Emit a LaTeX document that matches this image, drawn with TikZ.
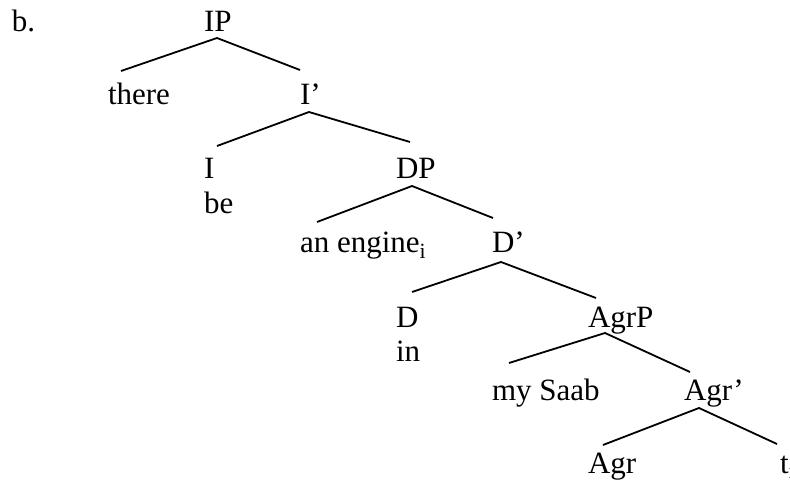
\documentclass[tikz,border=0pt]{standalone}
\usepackage{fontspec}
\setmainfont{Liberation Serif}
\begin{document}
\begin{tikzpicture}[x=1pt,y=-1pt,
  lbl/.style={anchor=base west,inner sep=0pt,outer sep=0pt,
    font=\fontsize{31}{34.5}\selectfont},
  branch/.style={line width=1.8pt,line cap=butt}]
\useasboundingbox (0,0) rectangle (790,481);
% labels, set on tab stops 96pt apart
\node[lbl] (ex)    at (12,32)   {b.};
\node[lbl] (IP)    at (204,32)  {IP};
\node[lbl] (there) at (108,105) {there};
\node[lbl] (Ibar)  at (300,105) {I’};
\node[lbl] (I)     at (204,179) {I};
\node[lbl] (be)    at (204,214) {be};
\node[lbl] (DP)    at (396,179) {DP};
\node[lbl] (eng)   at (300,253) {an engine\textsubscript{i}};
\node[lbl] (Dbar)  at (492,253) {D’};
\node[lbl] (D)     at (396,327) {D};
\node[lbl] (in)    at (396,361) {in};
\node[lbl] (AgrP)  at (588,327) {AgrP};
\node[lbl] (saab)  at (492,400) {my Saab};
\node[lbl] (Agrb)  at (684,400) {Agr’};
\node[lbl] (Agr)   at (588,473) {Agr};
\node[lbl] (trace) at (780,473) {t\textsubscript{i}};
% branch points: top of each fork and its two feet
\coordinate (IPa)   at (217,38);  \coordinate (IPl)   at (121,71);  \coordinate (IPr)   at (300,70);
\coordinate (Ibara) at (309,112); \coordinate (Ibarl) at (217,146); \coordinate (Ibarr) at (410,142);
\coordinate (DPa)   at (412,186); \coordinate (DPl)   at (317,222); \coordinate (DPr)   at (493,218);
\coordinate (Dbara) at (501,262); \coordinate (Dbarl) at (412,292); \coordinate (Dbarr) at (596,298);
\coordinate (AgrPa) at (605,333); \coordinate (AgrPl) at (509,363); \coordinate (AgrPr) at (690,372);
\coordinate (Agrba) at (699,408); \coordinate (Agrbl) at (603,445); \coordinate (Agrbr) at (777,444);
% branches
\draw[branch] (IPl) -- (IPa) -- (IPr);
\draw[branch] (Ibarl) -- (Ibara) -- (Ibarr);
\draw[branch] (DPl) -- (DPa) -- (DPr);
\draw[branch] (Dbarl) -- (Dbara) -- (Dbarr);
\draw[branch] (AgrPl) -- (AgrPa) -- (AgrPr);
\draw[branch] (Agrbl) -- (Agrba) -- (Agrbr);
\end{tikzpicture}
\end{document}
